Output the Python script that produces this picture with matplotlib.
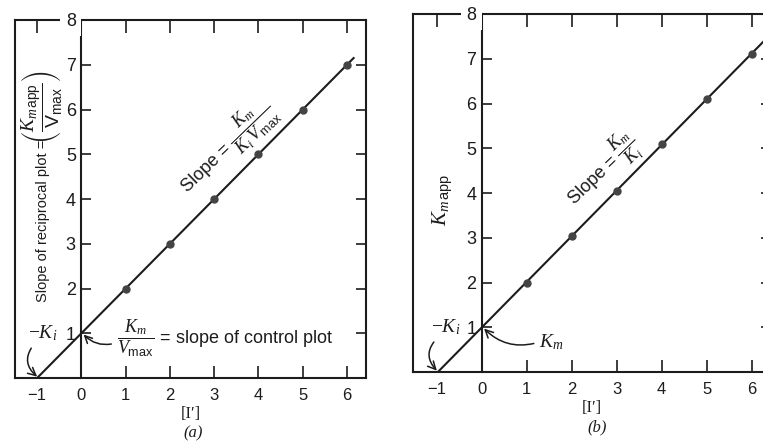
import numpy as np
import matplotlib
matplotlib.use("Agg")
import matplotlib.pyplot as plt

plt.rcParams['font.family'] = ['Liberation Sans', 'DejaVu Sans']
plt.rcParams['mathtext.fontset'] = 'custom'
plt.rcParams['mathtext.rm'] = 'Liberation Serif'
plt.rcParams['mathtext.it'] = 'Liberation Serif:italic'
plt.rcParams['mathtext.sf'] = 'Liberation Sans'
plt.rcParams['mathtext.fallback'] = 'stix'

# inhibitor concentration [I'] and the measured values for both replots
conc = [1, 2, 3, 4, 5, 6]
slope_recip = [2.0, 3.0, 4.0, 5.0, 6.0, 7.0]   # (a) slope of reciprocal plot
km_app = [2.0, 3.05, 4.05, 5.1, 6.1, 7.1]      # (b) apparent Km

x_ticks = [-1, 0, 1, 2, 3, 4, 5, 6]
y_ticks = [1, 2, 3, 4, 5, 6, 7, 8]

ink = '#1c1c1c'


def style_axes(ax, xlim):
    ax.set_xlim(*xlim)
    ax.set_ylim(0, 8)
    ax.spines['left'].set_position(('data', 0))
    for s in ax.spines.values():
        s.set_linewidth(1.5)
        s.set_color(ink)
    ax.set_xticks(x_ticks, labels=[str(v).replace('-', '\u2212') for v in x_ticks])
    ax.set_yticks(y_ticks, labels=[str(v) for v in y_ticks])
    ax.tick_params(axis='x', top=True, bottom=True, direction='in', length=9,
                   width=1.2, pad=7, labelsize=12, colors=ink)
    ax.tick_params(axis='y', left=True, right=True, direction='in', length=7,
                   width=1.2, pad=4, labelsize=13, colors=ink)
    ticks = ax.xaxis.get_major_ticks()
    ticks[0].tick1line.set_visible(False)
    ticks[1].tick1line.set_visible(False)
    ticks[1].tick2line.set_visible(False)
    # the "8" sits on the top frame line
    ax.set_axisbelow(False)
    ax.get_yticklabels()[-1].set_bbox(dict(facecolor='white', edgecolor='none', pad=4))
    # outer left edge of the frame
    ax.plot([0, 0], [0, 1], transform=ax.transAxes, color=ink, lw=1.5, clip_on=False)
    ax.set_xlabel("[I\u2032]", family='Liberation Serif', fontsize=12, labelpad=2, color=ink)


def draw_fit(ax, x, y, x_end):
    m, c = np.polyfit(x, y, 1)
    xs = np.array([-c / m, x_end])
    ax.plot(xs, m * xs + c, color=ink, lw=1.5, zorder=2)
    ax.plot(x, y, 'o', color='#444444', ms=5, zorder=3)


arrow = dict(arrowstyle='->', color=ink, lw=1.1, shrinkA=2, shrinkB=0)

fig = plt.figure(figsize=(7.63, 4.45), dpi=100)
ax_a = fig.add_axes([15 / 763, 67 / 445, 351 / 763, 358 / 445])
ax_b = fig.add_axes([413 / 763, 73 / 445, 358 / 763, 358 / 445])

# (a) slope replot
style_axes(ax_a, (-1.5, 6.43))
draw_fit(ax_a, conc, slope_recip, 6.15)
ax_a.text(0.08, 0.665, "Slope of reciprocal plot =", transform=ax_a.transAxes,
          rotation=90, ha='center', va='top', fontsize=10.5, color=ink)
ax_a.text(0.075, 0.655,
          r"$\left(\dfrac{K_{m\,\mathsf{app}}}{\mathsf{V}_{\mathsf{max}}}\right)$",
          transform=ax_a.transAxes, rotation=90, ha='center', va='bottom',
          fontsize=14, color=ink)
ax_a.text(3.3, 5.15, r"Slope = $\dfrac{K_m}{K_i\,V_{\mathsf{max}}}$", rotation=44,
          rotation_mode='anchor', ha='center', va='center', fontsize=13, color=ink)
ax_a.annotate(r"$\dfrac{K_m}{V_{\mathsf{max}}}$ = slope of control plot", xy=(0.05, 0.97),
              xytext=(0.8, 0.88), ha='left', va='center', fontsize=13, color=ink,
              arrowprops=dict(arrow, relpos=(0, 0.4), connectionstyle='arc3,rad=-0.3'))
ax_a.annotate(r"$-K_i$", xy=(-1, 0.03), xytext=(-0.88, 1.0), ha='center', va='center',
              fontsize=14, color=ink,
              arrowprops=dict(arrow, relpos=(0.25, 0), connectionstyle='arc3,rad=0.5'))
fig.text(193 / 763, 0.027, "(a)", family='Liberation Serif', style='italic',
         fontsize=12, ha='center', va='center', color=ink)

# (b) apparent Km replot
style_axes(ax_b, (-1.53, 6.43))
draw_fit(ax_b, conc, km_app, 6.6)
ax_b.text(0.084, 0.48, r"$K_{m\,\mathsf{app}}$", transform=ax_b.transAxes, rotation=90,
          ha='center', va='center', fontsize=15, color=ink)
ax_b.text(2.7, 4.5, r"Slope = $\dfrac{K_m}{K_i}$", rotation=44,
          rotation_mode='anchor', ha='center', va='center', fontsize=13, color=ink)
ax_b.annotate(r"$K_m$", xy=(0.05, 0.97), xytext=(1.55, 0.67), ha='center', va='center',
              fontsize=14, color=ink,
              arrowprops=dict(arrow, relpos=(0, 0.5), connectionstyle='arc3,rad=-0.3'))
ax_b.annotate(r"$-K_i$", xy=(-1, 0.03), xytext=(-0.8, 1.0), ha='center', va='center',
              fontsize=14, color=ink,
              arrowprops=dict(arrow, relpos=(0.25, 0), connectionstyle='arc3,rad=0.5'))
fig.text(597 / 763, 0.04, "(b)", family='Liberation Serif', style='italic',
         fontsize=12, ha='center', va='center', color=ink)

fig.savefig("out.png", dpi=100)
